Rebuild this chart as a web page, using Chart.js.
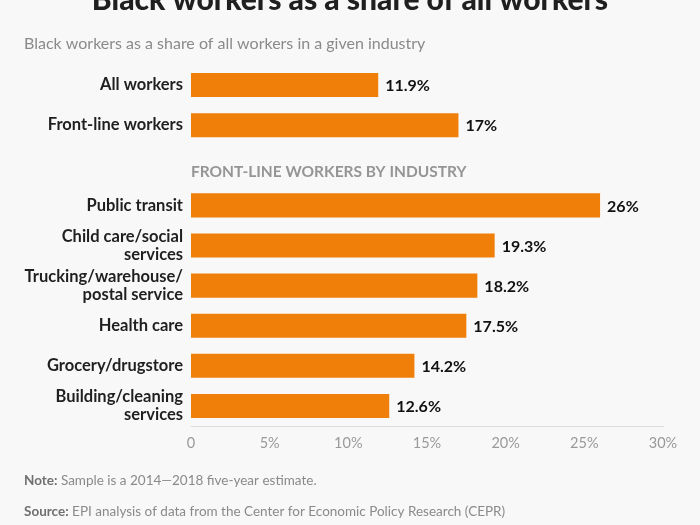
<!DOCTYPE html>
<html>
<head>
<meta charset="utf-8">
<script src="https://cdn.jsdelivr.net/npm/chart.js@4/dist/chart.umd.min.js"></script>
<style>
  html, body { margin: 0; padding: 0; background: #f8f8f8; }
  #wrap { width: 700px; height: 525px; position: relative; }
</style>
</head>
<body>
<div id="wrap"><canvas id="c" width="700" height="525"></canvas></div>
<script>
const titleText = "Black workers as a share of all workers";
const subtitleText = "Black workers as a share of all workers in a given industry";
const sectionHeading = "FRONT-LINE WORKERS BY INDUSTRY";
const categories = [
  "All workers",
  "Front-line workers",
  "",
  "Public transit",
  ["Child care/social", "services"],
  ["Trucking/warehouse/", "postal service"],
  "Health care",
  "Grocery/drugstore",
  ["Building/cleaning", "services"]
];
const values = [11.9, 17, null, 26, 19.3, 18.2, 17.5, 14.2, 12.6];
const valueLabels = ["11.9%", "17%", "", "26%", "19.3%", "18.2%", "17.5%", "14.2%", "12.6%"];
const tickValues = [0, 5, 10, 15, 20, 25, 30];
const noteLabel = "Note:";
const noteText = " Sample is a 2014\u20142018 five-year estimate.";
const sourceLabel = "Source:";
const sourceText = " EPI analysis of data from the Center for Economic Policy Research (CEPR)";

const FONT = "Lato, 'Open Sans', sans-serif";

const textPlugin = {
  id: 'texts',
  afterDraw(chart) {
    const ctx = chart.ctx;
    const xs = chart.scales.x, ys = chart.scales.y;
    ctx.save();
    // title (cut off at top)
    ctx.fillStyle = '#1f1f1f';
    ctx.font = "900 30px " + FONT;
    ctx.textAlign = 'center';
    ctx.textBaseline = 'alphabetic';
    ctx.fillText(titleText, 350, 10);
    // subtitle
    ctx.fillStyle = '#8a8a8a';
    ctx.font = "16px " + FONT;
    ctx.textAlign = 'left';
    ctx.textBaseline = 'middle';
    ctx.fillText(subtitleText, 24, 44);
    // section heading at empty category
    const hIdx = values.indexOf(null);
    ctx.fillStyle = '#959595';
    ctx.font = "bold 15.5px " + FONT;
    ctx.fillText(sectionHeading, xs.getPixelForValue(0), ys.getPixelForValue(hIdx) + 7);
    // value labels
    ctx.fillStyle = '#111';
    ctx.font = "bold 16px " + FONT;
    const meta = chart.getDatasetMeta(0);
    meta.data.forEach((bar, i) => {
      if (values[i] === null) return;
      ctx.fillText(valueLabels[i], bar.x + 7, bar.y + 1);
    });
    // note and source
    const drawPair = (a, b, y) => {
      ctx.font = "bold 13.5px " + FONT;
      ctx.fillStyle = '#707070';
      ctx.fillText(a, 24, y);
      const w = ctx.measureText(a).width;
      ctx.font = "13.5px " + FONT;
      ctx.fillStyle = '#8a8a8a';
      ctx.fillText(b, 24 + w, y);
    };
    drawPair(noteLabel, noteText, 481);
    drawPair(sourceLabel, sourceText, 512);
    ctx.restore();
  }
};

new Chart(document.getElementById('c'), {
  type: 'bar',
  data: {
    labels: categories,
    datasets: [{
      data: values,
      backgroundColor: '#F07F0A',
      borderWidth: 0,
      barPercentage: 0.6,
      categoryPercentage: 1.0
    }]
  },
  options: {
    indexAxis: 'y',
    responsive: false,
    animation: false,
    devicePixelRatio: 1,
    layout: { padding: { top: 65, right: 37, bottom: 69, left: 0 } },
    plugins: { legend: { display: false }, tooltip: { enabled: false }, title: { display: false } },
    scales: {
      x: {
        min: 0, max: 30,
        afterBuildTicks(scale) { scale.ticks = tickValues.map(v => ({ value: v })); },
        afterFit(scale) { scale.height = 30; },
        grid: { display: false, drawTicks: false },
        border: { display: true, color: '#dcdcdc', width: 1 },
        ticks: {
          padding: 9,
          color: '#9a9a9a',
          font: { family: FONT, size: 14.5 },
          callback: v => v === 0 ? '0' : v + '%'
        }
      },
      y: {
        afterFit(scale) { scale.width = 191; },
        grid: { display: false, drawTicks: false },
        border: { display: false },
        ticks: {
          padding: 8,
          color: '#1f1f1f',
          font: { family: FONT, size: 16.5, weight: 'bold', lineHeight: 1.1 }
        }
      }
    }
  },
  plugins: [textPlugin]
});
</script>
</body>
</html>
